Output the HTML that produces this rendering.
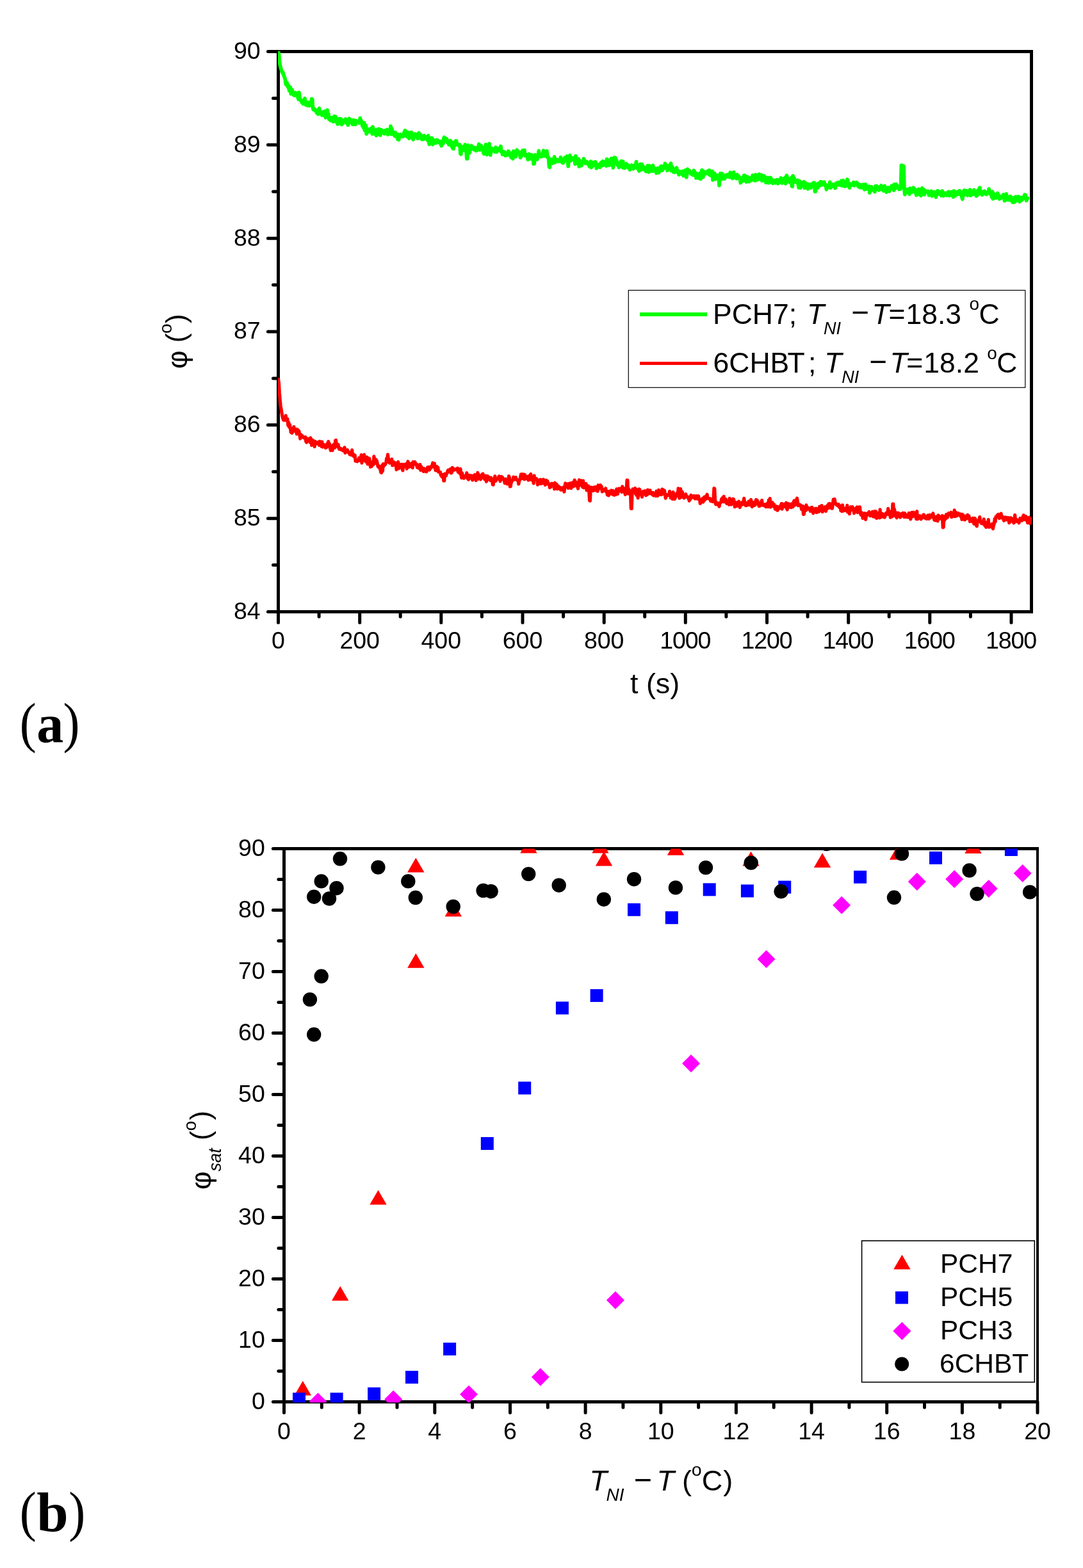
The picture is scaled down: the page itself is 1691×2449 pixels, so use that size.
<!DOCTYPE html>
<html lang="en"><head><meta charset="utf-8"><title>Figure</title>
<style>
html,body{margin:0;padding:0;background:#fff}
svg{display:block}
text{font-family:"Liberation Sans",sans-serif;fill:#000}
.s{font-family:"Liberation Serif",serif}
.i{font-style:italic}
.ax{stroke:#000;stroke-width:5;stroke-linecap:round;stroke-linejoin:miter;fill:none}
</style></head><body>
<svg width="1691" height="2449" viewBox="0 0 1691 2449">
<rect width="1691" height="2449" fill="#fff"/>
<g id="plot-a">
<rect class="ax" x="434.5" y="80.5" width="1176.0" height="875.0"/>
<path class="ax" d="M434.5 80.5H418.4M434.5 153.4H426.5M434.5 226.3H418.4M434.5 299.2H426.5M434.5 372.2H418.4M434.5 445.1H426.5M434.5 518.0H418.4M434.5 590.9H426.5M434.5 663.8H418.4M434.5 736.7H426.5M434.5 809.7H418.4M434.5 882.6H426.5M434.5 955.5H418.4M434.5 955.5V972.4M498.1 955.5V963.3M561.7 955.5V972.4M625.2 955.5V963.3M688.8 955.5V972.4M752.4 955.5V963.3M816.0 955.5V972.4M879.6 955.5V963.3M943.2 955.5V972.4M1006.7 955.5V963.3M1070.3 955.5V972.4M1133.9 955.5V963.3M1197.5 955.5V972.4M1261.1 955.5V963.3M1324.7 955.5V972.4M1388.2 955.5V963.3M1451.8 955.5V972.4M1515.4 955.5V963.3M1579.0 955.5V972.4"/>
<clipPath id="ca"><rect x="434" y="80" width="1177" height="876"/></clipPath>
<g clip-path="url(#ca)">
<path d="M434.5 81.1L435.4 84.6L436.3 94.0L437.2 101.0L438.1 104.8L439.0 108.4L439.9 111.3L440.8 113.3L441.7 113.0L442.6 116.2L443.5 118.9L444.4 120.9L445.3 124.4L446.2 131.1L447.1 132.7L448.0 128.8L448.9 132.9L449.8 136.2L450.7 133.7L451.6 141.5L452.5 139.5L453.4 136.4L454.3 146.6L455.2 140.8L456.1 140.3L457.0 144.2L457.9 146.5L458.8 148.6L459.7 149.0L460.6 144.7L461.5 148.0L462.4 146.1L463.3 148.2L464.2 145.6L465.1 151.8L466.0 155.0L466.9 144.5L467.8 151.2L468.7 156.2L469.6 155.7L470.5 157.5L471.4 160.2L472.3 160.8L473.2 162.1L474.1 161.1L475.0 156.0L475.9 153.8L476.8 162.7L477.7 163.8L478.6 159.6L479.5 162.8L480.4 164.8L481.3 159.9L482.2 162.7L483.1 165.0L484.0 162.5L484.9 162.5L485.8 162.3L486.7 154.3L487.6 155.2L488.5 168.7L489.4 171.2L490.3 169.9L491.2 171.9L492.1 171.5L493.0 171.9L493.9 174.9L494.8 176.5L495.7 174.3L496.6 178.2L497.5 176.3L498.4 169.1L499.3 176.6L500.2 177.1L501.1 178.2L502.0 175.1L502.9 180.1L503.8 178.1L504.7 178.1L505.6 174.6L506.5 174.1L507.4 180.9L508.3 183.7L509.2 176.9L510.1 180.3L511.0 171.9L511.9 177.0L512.8 177.7L513.7 186.2L514.6 183.2L515.5 184.1L516.4 188.4L517.3 184.0L518.2 183.9L519.1 187.1L520.0 189.8L520.9 189.6L521.8 181.7L522.7 184.1L523.6 181.9L524.5 190.0L525.4 186.1L526.3 185.2L527.2 193.9L528.1 192.8L529.0 188.3L529.9 191.2L530.8 185.3L531.7 188.9L532.6 186.0L533.5 194.5L534.4 190.4L535.3 193.0L536.2 190.2L537.1 190.1L538.0 187.4L538.9 189.6L539.8 186.0L540.7 190.7L541.6 192.6L542.5 192.0L543.4 195.3L544.3 192.5L545.2 185.1L546.1 190.5L547.0 187.0L547.9 187.6L548.8 188.7L549.7 190.5L550.6 194.2L551.5 187.4L552.4 194.3L553.3 188.2L554.2 193.9L555.1 194.3L556.0 188.7L556.9 189.3L557.8 190.9L558.7 189.8L559.6 190.9L560.5 192.0L561.4 190.6L562.3 184.4L563.2 191.4L564.1 188.6L565.0 191.4L565.9 196.8L566.8 196.9L567.7 199.6L568.6 192.0L569.5 203.4L570.4 197.9L571.3 196.0L572.2 209.1L573.1 203.0L574.0 202.4L574.9 205.9L575.8 202.1L576.7 205.4L577.6 202.4L578.5 201.3L579.4 204.0L580.3 200.7L581.2 209.2L582.1 198.1L583.0 207.7L583.9 208.7L584.8 208.4L585.7 207.8L586.6 202.9L587.5 211.7L588.4 202.8L589.3 205.7L590.2 201.9L591.1 210.0L592.0 201.5L592.9 210.2L593.8 211.0L594.7 208.1L595.6 202.9L596.5 207.0L597.4 204.6L598.3 206.9L599.2 207.2L600.1 208.7L601.0 203.9L601.9 206.0L602.8 206.6L603.7 206.8L604.6 202.5L605.5 210.1L606.4 206.8L607.3 204.9L608.2 206.3L609.1 207.9L610.0 197.1L610.9 209.5L611.8 200.9L612.7 206.6L613.6 206.6L614.5 209.9L615.4 209.7L616.3 212.4L617.2 206.8L618.1 211.9L619.0 212.5L619.9 212.5L620.8 217.2L621.7 209.8L622.6 218.3L623.5 212.6L624.4 210.7L625.3 210.1L626.2 213.4L627.1 210.7L628.0 212.9L628.9 211.5L629.8 213.0L630.7 208.0L631.6 205.7L632.5 203.8L633.4 211.3L634.3 210.2L635.2 206.0L636.1 213.7L637.0 210.3L637.9 207.2L638.8 216.2L639.7 211.5L640.6 207.1L641.5 207.9L642.4 206.8L643.3 212.5L644.2 214.9L645.1 218.0L646.0 211.8L646.9 209.5L647.8 213.2L648.7 209.3L649.6 213.3L650.5 212.8L651.4 211.9L652.3 216.4L653.2 213.6L654.1 207.5L655.0 215.4L655.9 215.0L656.8 210.7L657.7 214.1L658.6 217.6L659.5 213.3L660.4 215.7L661.3 217.6L662.2 211.9L663.1 213.6L664.0 214.7L664.9 215.2L665.8 214.4L666.7 216.9L667.6 219.0L668.5 211.9L669.4 218.8L670.3 225.4L671.2 222.1L672.1 221.4L673.0 218.1L673.9 215.4L674.8 216.2L675.7 225.7L676.6 218.8L677.5 219.7L678.4 219.4L679.3 221.2L680.2 223.6L681.1 219.9L682.0 218.5L682.9 218.8L683.8 219.7L684.7 222.4L685.6 221.2L686.5 222.8L687.4 221.2L688.3 225.0L689.2 227.8L690.1 223.2L691.0 220.1L691.9 224.2L692.8 216.7L693.7 214.4L694.6 219.3L695.5 219.9L696.4 217.6L697.3 216.7L698.2 222.2L699.1 221.1L700.0 221.7L700.9 225.8L701.8 221.7L702.7 219.7L703.6 220.2L704.5 223.5L705.4 229.1L706.3 222.3L707.2 232.1L708.1 232.3L709.0 225.7L709.9 225.3L710.8 226.6L711.7 220.0L712.6 220.3L713.5 225.3L714.4 225.8L715.3 226.5L716.2 226.6L717.1 226.3L718.0 226.1L718.9 240.2L719.8 240.8L720.7 228.9L721.6 230.3L722.5 233.0L723.4 230.4L724.3 232.1L725.2 234.8L726.1 225.9L727.0 231.5L727.9 233.2L728.8 247.8L729.7 247.9L730.6 226.9L731.5 231.1L732.4 233.1L733.3 238.8L734.2 229.4L735.1 233.7L736.0 227.5L736.9 232.3L737.8 229.9L738.7 231.7L739.6 230.4L740.5 233.9L741.4 231.1L742.3 230.7L743.2 235.3L744.1 233.1L745.0 234.5L745.9 232.4L746.8 233.0L747.7 225.1L748.6 232.3L749.5 234.1L750.4 229.7L751.3 227.5L752.2 231.9L753.1 232.5L754.0 231.4L754.9 238.8L755.8 240.3L756.7 232.8L757.6 236.2L758.5 225.7L759.4 235.3L760.3 241.5L761.2 234.4L762.1 235.5L763.0 231.8L763.9 224.3L764.8 234.0L765.7 242.1L766.6 234.2L767.5 231.6L768.4 235.3L769.3 233.5L770.2 235.8L771.1 233.0L772.0 233.4L772.9 237.1L773.8 230.1L774.7 234.9L775.6 237.2L776.5 235.4L777.4 232.7L778.3 235.2L779.2 232.0L780.1 233.9L781.0 233.6L781.9 228.5L782.8 237.0L783.7 235.5L784.6 241.4L785.5 238.8L786.4 238.5L787.3 237.3L788.2 239.3L789.1 243.0L790.0 239.6L790.9 242.3L791.8 241.3L792.7 239.6L793.6 236.3L794.5 237.0L795.4 239.4L796.3 243.1L797.2 239.3L798.1 245.8L799.0 241.9L799.9 242.6L800.8 247.9L801.7 236.2L802.6 243.1L803.5 244.3L804.4 238.4L805.3 244.6L806.2 237.1L807.1 234.3L808.0 238.7L808.9 238.3L809.8 238.4L810.7 237.7L811.6 242.1L812.5 246.1L813.4 238.8L814.3 243.8L815.2 237.9L816.1 235.0L817.0 239.9L817.9 239.7L818.8 234.7L819.7 242.1L820.6 243.4L821.5 242.6L822.4 242.6L823.3 241.8L824.2 249.2L825.1 243.7L826.0 240.6L826.9 246.2L827.8 245.3L828.7 247.9L829.6 241.8L830.5 244.6L831.4 242.4L832.3 245.9L833.2 255.9L834.1 255.8L835.0 245.7L835.9 242.0L836.8 247.7L837.7 244.2L838.6 249.1L839.5 245.4L840.4 243.8L841.3 235.7L842.2 244.3L843.1 240.5L844.0 244.5L844.9 244.9L845.8 244.1L846.7 240.7L847.6 241.9L848.5 235.1L849.4 243.7L850.3 243.2L851.2 243.0L852.1 238.6L853.0 243.8L853.9 235.9L854.8 245.8L855.7 244.4L856.6 247.5L857.5 260.6L858.4 261.4L859.3 249.0L860.2 248.9L861.1 253.4L862.0 249.4L862.9 255.0L863.8 250.8L864.7 253.3L865.6 245.0L866.5 253.6L867.4 251.6L868.3 251.3L869.2 249.4L870.1 249.3L871.0 252.3L871.9 251.6L872.8 250.3L873.7 251.7L874.6 250.8L875.5 245.8L876.4 251.3L877.3 251.0L878.2 254.1L879.1 254.5L880.0 252.3L880.9 250.9L881.8 246.2L882.7 250.9L883.6 249.8L884.5 249.8L885.4 244.0L886.3 245.7L887.2 259.7L888.1 249.3L889.0 248.3L889.9 242.7L890.8 251.0L891.7 247.7L892.6 248.1L893.5 247.7L894.4 246.7L895.3 249.6L896.2 247.0L897.1 248.8L898.0 256.1L898.9 243.7L899.8 255.4L900.7 254.4L901.6 249.4L902.5 249.9L903.4 248.3L904.3 260.0L905.2 251.4L906.1 251.9L907.0 255.4L907.9 258.7L908.8 255.3L909.7 254.1L910.6 253.7L911.5 247.9L912.4 251.6L913.3 254.4L914.2 255.4L915.1 252.4L916.0 252.4L916.9 255.5L917.8 253.6L918.7 255.3L919.6 257.7L920.5 260.0L921.4 254.3L922.3 252.3L923.2 261.5L924.1 257.7L925.0 259.3L925.9 253.7L926.8 257.9L927.7 257.8L928.6 255.2L929.5 252.8L930.4 254.7L931.3 262.9L932.2 258.0L933.1 257.3L934.0 259.1L934.9 258.1L935.8 257.0L936.7 261.3L937.6 255.4L938.5 253.8L939.4 257.5L940.3 258.6L941.2 251.8L942.1 258.0L943.0 253.6L943.9 253.1L944.8 257.4L945.7 256.5L946.6 259.1L947.5 248.6L948.4 251.7L949.3 252.2L950.2 250.2L951.1 258.3L952.0 254.2L952.9 254.5L953.8 257.0L954.7 247.4L955.6 252.1L956.5 253.6L957.4 262.1L958.3 251.1L959.2 246.1L960.1 253.3L961.0 246.5L961.9 253.4L962.8 250.5L963.7 256.8L964.6 258.1L965.5 256.0L966.4 261.6L967.3 258.3L968.2 257.4L969.1 252.8L970.0 251.8L970.9 259.5L971.8 261.1L972.7 252.1L973.6 262.1L974.5 257.5L975.4 262.5L976.3 261.5L977.2 257.0L978.1 255.9L979.0 257.7L979.9 260.8L980.8 258.0L981.7 262.7L982.6 261.0L983.5 265.1L984.4 261.8L985.3 260.1L986.2 258.1L987.1 262.8L988.0 262.5L988.9 263.6L989.8 258.7L990.7 258.7L991.6 258.4L992.5 260.8L993.4 252.6L994.3 262.0L995.2 260.4L996.1 263.9L997.0 264.5L997.9 267.1L998.8 262.0L999.7 256.4L1000.6 263.8L1001.5 265.0L1002.4 256.7L1003.3 259.4L1004.2 263.0L1005.1 261.2L1006.0 262.2L1006.9 265.6L1007.8 262.4L1008.7 267.8L1009.6 267.4L1010.5 261.8L1011.4 258.7L1012.3 265.0L1013.2 268.8L1014.1 258.9L1015.0 266.6L1015.9 259.9L1016.8 266.9L1017.7 263.3L1018.6 267.2L1019.5 258.4L1020.4 265.6L1021.3 266.6L1022.2 263.0L1023.1 264.6L1024.0 263.5L1024.9 270.4L1025.8 267.6L1026.7 266.2L1027.6 262.5L1028.5 269.6L1029.4 266.7L1030.3 265.3L1031.2 266.3L1032.1 259.4L1033.0 259.7L1033.9 266.3L1034.8 264.8L1035.7 261.2L1036.6 259.5L1037.5 262.5L1038.4 255.4L1039.3 257.4L1040.2 259.5L1041.1 260.0L1042.0 266.3L1042.9 265.1L1043.8 258.9L1044.7 261.5L1045.6 264.0L1046.5 259.9L1047.4 255.2L1048.3 266.7L1049.2 260.2L1050.1 261.8L1051.0 264.0L1051.9 268.9L1052.8 264.3L1053.7 269.0L1054.6 264.0L1055.5 263.9L1056.4 262.0L1057.3 267.7L1058.2 269.3L1059.1 267.4L1060.0 272.8L1060.9 267.5L1061.8 269.9L1062.7 268.3L1063.6 269.2L1064.5 268.8L1065.4 272.5L1066.3 267.5L1067.2 274.5L1068.1 269.9L1069.0 273.5L1069.9 266.0L1070.8 269.5L1071.7 276.9L1072.6 271.9L1073.5 264.2L1074.4 269.1L1075.3 267.9L1076.2 266.6L1077.1 267.7L1078.0 270.8L1078.9 269.7L1079.8 270.5L1080.7 272.5L1081.6 273.2L1082.5 270.8L1083.4 266.3L1084.3 268.0L1085.2 274.1L1086.1 270.1L1087.0 278.1L1087.9 272.6L1088.8 275.3L1089.7 271.7L1090.6 274.5L1091.5 278.4L1092.4 274.0L1093.3 270.5L1094.2 279.6L1095.1 269.0L1096.0 265.7L1096.9 266.2L1097.8 276.7L1098.7 269.8L1099.6 271.7L1100.5 268.5L1101.4 271.6L1102.3 270.1L1103.2 270.4L1104.1 269.7L1105.0 267.3L1105.9 271.8L1106.8 271.8L1107.7 266.0L1108.6 273.5L1109.5 272.2L1110.4 269.1L1111.3 275.1L1112.2 267.6L1113.1 281.0L1114.0 273.0L1114.9 273.9L1115.8 270.7L1116.7 279.9L1117.6 277.5L1118.5 273.5L1119.4 278.8L1120.3 277.3L1121.2 274.6L1122.1 275.3L1123.0 289.6L1123.9 275.3L1124.8 270.9L1125.7 277.9L1126.6 279.6L1127.5 271.2L1128.4 278.3L1129.3 275.5L1130.2 279.4L1131.1 279.0L1132.0 277.6L1132.9 273.7L1133.8 276.7L1134.7 274.7L1135.6 273.0L1136.5 274.6L1137.4 273.0L1138.3 274.5L1139.2 276.8L1140.1 269.5L1141.0 273.1L1141.9 271.4L1142.8 274.7L1143.7 278.5L1144.6 278.3L1145.5 268.8L1146.4 277.2L1147.3 276.8L1148.2 273.3L1149.1 276.2L1150.0 278.8L1150.9 272.6L1151.8 277.2L1152.7 278.0L1153.6 275.2L1154.5 277.5L1155.4 278.6L1156.3 285.5L1157.2 284.3L1158.1 280.9L1159.0 277.6L1159.9 277.5L1160.8 282.2L1161.7 273.8L1162.6 277.9L1163.5 274.5L1164.4 277.7L1165.3 284.1L1166.2 276.0L1167.1 278.4L1168.0 276.9L1168.9 282.0L1169.8 283.6L1170.7 278.0L1171.6 280.1L1172.5 277.8L1173.4 281.6L1174.3 279.9L1175.2 273.9L1176.1 278.9L1177.0 275.4L1177.9 275.6L1178.8 282.1L1179.7 273.0L1180.6 281.5L1181.5 278.9L1182.4 277.4L1183.3 280.2L1184.2 280.1L1185.1 272.1L1186.0 274.6L1186.9 278.3L1187.8 279.5L1188.7 273.1L1189.6 282.3L1190.5 275.8L1191.4 279.6L1192.3 277.3L1193.2 274.7L1194.1 281.8L1195.0 277.7L1195.9 285.2L1196.8 280.4L1197.7 277.6L1198.6 280.6L1199.5 285.5L1200.4 277.7L1201.3 285.4L1202.2 280.2L1203.1 277.6L1204.0 279.3L1204.9 281.2L1205.8 283.0L1206.7 286.2L1207.6 284.2L1208.5 282.7L1209.4 281.8L1210.3 282.1L1211.2 285.8L1212.1 281.4L1213.0 280.7L1213.9 282.1L1214.8 286.7L1215.7 282.4L1216.6 282.9L1217.5 280.6L1218.4 283.0L1219.3 278.0L1220.2 285.3L1221.1 285.9L1222.0 284.3L1222.9 279.5L1223.8 281.5L1224.7 279.6L1225.6 277.9L1226.5 286.8L1227.4 285.3L1228.3 274.1L1229.2 277.0L1230.1 280.0L1231.0 280.3L1231.9 282.9L1232.8 284.5L1233.7 279.2L1234.6 281.8L1235.5 277.8L1236.4 290.9L1237.3 291.2L1238.2 274.7L1239.1 279.5L1240.0 278.1L1240.9 283.7L1241.8 284.0L1242.7 282.5L1243.6 284.5L1244.5 282.7L1245.4 281.5L1246.3 287.4L1247.2 293.2L1248.1 282.7L1249.0 290.4L1249.9 293.3L1250.8 285.9L1251.7 289.1L1252.6 285.5L1253.5 287.0L1254.4 289.3L1255.3 284.0L1256.2 293.6L1257.1 291.4L1258.0 290.5L1258.9 286.3L1259.8 291.9L1260.7 293.7L1261.6 294.9L1262.5 292.9L1263.4 287.8L1264.3 288.8L1265.2 290.2L1266.1 293.2L1267.0 288.3L1267.9 290.1L1268.8 288.0L1269.7 285.7L1270.6 288.1L1271.5 285.6L1272.4 299.1L1273.3 299.1L1274.2 291.6L1275.1 287.8L1276.0 287.5L1276.9 293.5L1277.8 286.5L1278.7 289.3L1279.6 285.6L1280.5 289.8L1281.4 283.8L1282.3 283.9L1283.2 288.9L1284.1 284.8L1285.0 287.0L1285.9 285.9L1286.8 284.4L1287.7 289.2L1288.6 288.2L1289.5 288.6L1290.4 296.0L1291.3 291.4L1292.2 292.1L1293.1 290.1L1294.0 289.9L1294.9 292.9L1295.8 284.5L1296.7 293.4L1297.6 291.2L1298.5 291.7L1299.4 289.1L1300.3 288.2L1301.2 288.0L1302.1 288.2L1303.0 289.8L1303.9 293.9L1304.8 288.7L1305.7 286.1L1306.6 289.4L1307.5 285.9L1308.4 285.9L1309.3 284.7L1310.2 288.9L1311.1 287.5L1312.0 288.8L1312.9 288.0L1313.8 282.5L1314.7 290.1L1315.6 285.3L1316.5 281.9L1317.4 289.6L1318.3 285.2L1319.2 291.1L1320.1 284.5L1321.0 290.2L1321.9 288.7L1322.8 280.2L1323.7 282.1L1324.6 289.9L1325.5 288.7L1326.4 293.3L1327.3 287.0L1328.2 288.4L1329.1 289.1L1330.0 288.4L1330.9 288.7L1331.8 288.9L1332.7 284.8L1333.6 289.8L1334.5 287.7L1335.4 286.8L1336.3 285.1L1337.2 285.1L1338.1 285.6L1339.0 286.4L1339.9 291.1L1340.8 291.1L1341.7 288.6L1342.6 292.9L1343.5 288.8L1344.4 290.9L1345.3 292.8L1346.2 292.1L1347.1 293.1L1348.0 288.3L1348.9 288.8L1349.8 296.0L1350.7 291.5L1351.6 288.0L1352.5 292.7L1353.4 294.9L1354.3 293.6L1355.2 292.5L1356.1 291.3L1357.0 291.1L1357.9 301.0L1358.8 297.4L1359.7 294.0L1360.6 291.8L1361.5 296.3L1362.4 295.7L1363.3 296.1L1364.2 295.0L1365.1 298.9L1366.0 299.4L1366.9 290.6L1367.8 292.1L1368.7 290.5L1369.6 292.4L1370.5 291.7L1371.4 296.1L1372.3 296.9L1373.2 293.2L1374.1 295.2L1375.0 293.5L1375.9 289.8L1376.8 293.8L1377.7 296.3L1378.6 293.3L1379.5 298.0L1380.4 297.4L1381.3 290.5L1382.2 295.5L1383.1 298.5L1384.0 300.0L1384.9 295.8L1385.8 295.8L1386.7 293.0L1387.6 297.5L1388.5 298.8L1389.4 296.1L1390.3 293.6L1391.2 293.8L1392.1 290.4L1393.0 291.9L1393.9 289.7L1394.8 295.3L1395.7 297.2L1396.6 288.0L1397.5 294.2L1398.4 294.1L1399.3 287.8L1400.2 291.3L1401.1 293.1L1402.0 293.1L1402.9 291.1L1403.8 295.7L1404.7 294.8L1405.6 295.3L1406.5 293.9L1407.4 258.2L1408.3 258.5L1409.2 258.8L1410.1 259.1L1411.0 259.4L1411.9 294.4L1412.8 303.8L1413.7 295.9L1414.6 298.7L1415.5 300.6L1416.4 297.8L1417.3 295.6L1418.2 297.3L1419.1 298.4L1420.0 303.2L1420.9 294.2L1421.8 294.9L1422.7 298.7L1423.6 296.6L1424.5 300.0L1425.4 296.8L1426.3 293.3L1427.2 297.9L1428.1 295.7L1429.0 295.8L1429.9 301.3L1430.8 304.8L1431.7 298.8L1432.6 300.3L1433.5 303.4L1434.4 295.3L1435.3 299.8L1436.2 299.6L1437.1 298.0L1438.0 305.7L1438.9 297.8L1439.8 293.8L1440.7 296.9L1441.6 300.6L1442.5 296.0L1443.4 303.8L1444.3 297.6L1445.2 299.8L1446.1 299.8L1447.0 299.1L1447.9 299.0L1448.8 298.5L1449.7 300.0L1450.6 304.9L1451.5 302.6L1452.4 303.5L1453.3 302.2L1454.2 298.7L1455.1 306.0L1456.0 304.0L1456.9 301.5L1457.8 303.2L1458.7 299.9L1459.6 304.9L1460.5 305.1L1461.4 308.0L1462.3 300.3L1463.2 300.7L1464.1 298.1L1465.0 299.3L1465.9 302.9L1466.8 299.6L1467.7 300.3L1468.6 300.0L1469.5 305.6L1470.4 302.7L1471.3 298.3L1472.2 300.4L1473.1 306.0L1474.0 304.3L1474.9 303.8L1475.8 303.5L1476.7 301.8L1477.6 302.6L1478.5 305.1L1479.4 304.4L1480.3 299.8L1481.2 299.6L1482.1 305.5L1483.0 305.4L1483.9 301.2L1484.8 304.4L1485.7 299.6L1486.6 300.0L1487.5 300.4L1488.4 307.7L1489.3 298.1L1490.2 303.1L1491.1 304.8L1492.0 305.4L1492.9 303.8L1493.8 301.2L1494.7 299.8L1495.6 300.5L1496.5 303.3L1497.4 301.8L1498.3 298.0L1499.2 303.3L1500.1 299.9L1501.0 304.3L1501.9 308.0L1502.8 311.0L1503.7 302.7L1504.6 300.4L1505.5 297.2L1506.4 304.0L1507.3 302.3L1508.2 302.2L1509.1 297.9L1510.0 300.1L1510.9 305.2L1511.8 303.9L1512.7 301.8L1513.6 301.4L1514.5 296.4L1515.4 305.4L1516.3 301.9L1517.2 301.2L1518.1 303.5L1519.0 302.8L1519.9 303.0L1520.8 296.6L1521.7 303.2L1522.6 299.6L1523.5 299.6L1524.4 306.1L1525.3 303.8L1526.2 304.6L1527.1 296.8L1528.0 303.2L1528.9 296.5L1529.8 293.1L1530.7 301.1L1531.6 300.6L1532.5 300.5L1533.4 304.4L1534.3 299.7L1535.2 301.7L1536.1 299.6L1537.0 298.5L1537.9 299.5L1538.8 303.0L1539.7 300.6L1540.6 303.4L1541.5 301.3L1542.4 300.4L1543.3 299.7L1544.2 295.2L1545.1 298.5L1546.0 302.5L1546.9 303.7L1547.8 301.2L1548.7 308.0L1549.6 299.5L1550.5 310.6L1551.4 302.1L1552.3 307.9L1553.2 304.1L1554.1 308.7L1555.0 309.2L1555.9 306.4L1556.8 303.2L1557.7 301.9L1558.6 304.4L1559.5 307.8L1560.4 310.7L1561.3 307.8L1562.2 306.7L1563.1 309.2L1564.0 307.6L1564.9 307.8L1565.8 307.4L1566.7 303.9L1567.6 306.2L1568.5 313.6L1569.4 308.2L1570.3 311.1L1571.2 303.0L1572.1 307.9L1573.0 312.1L1573.9 307.5L1574.8 310.4L1575.7 312.2L1576.6 310.2L1577.5 306.8L1578.4 312.9L1579.3 312.5L1580.2 308.9L1581.1 315.8L1582.0 311.7L1582.9 309.8L1583.8 315.8L1584.7 311.3L1585.6 307.4L1586.5 313.7L1587.4 313.2L1588.3 311.1L1589.2 307.3L1590.1 310.3L1591.0 307.5L1591.9 315.0L1592.8 312.0L1593.7 309.2L1594.6 308.6L1595.5 312.5L1596.4 311.7L1597.3 308.2L1598.2 309.0L1599.1 309.0L1600.0 304.1L1600.9 304.6L1601.8 307.9L1602.7 313.2L1603.6 310.6L1604.5 309.6" fill="none" stroke="#00ff00" stroke-width="5.8" stroke-linejoin="round" stroke-linecap="round"/>
<path d="M434.5 592.5L435.4 598.4L436.3 613.2L437.2 624.0L438.1 633.6L439.0 638.7L439.9 644.5L440.8 650.0L441.7 653.5L442.6 656.2L443.5 656.2L444.4 653.5L445.3 656.3L446.2 649.2L447.1 655.9L448.0 656.0L448.9 654.3L449.8 664.4L450.7 659.5L451.6 667.1L452.5 663.2L453.4 669.1L454.3 675.3L455.2 675.9L456.1 676.3L457.0 672.6L457.9 669.7L458.8 666.6L459.7 671.8L460.6 673.3L461.5 670.2L462.4 670.4L463.3 677.9L464.2 670.5L465.1 673.8L466.0 672.4L466.9 673.6L467.8 679.1L468.7 685.1L469.6 678.5L470.5 682.5L471.4 680.1L472.3 681.7L473.2 682.4L474.1 683.7L475.0 683.9L475.9 684.2L476.8 682.6L477.7 689.5L478.6 691.1L479.5 685.0L480.4 688.2L481.3 685.8L482.2 685.7L483.1 685.7L484.0 690.7L484.9 683.8L485.8 689.5L486.7 695.5L487.6 687.0L488.5 688.0L489.4 688.5L490.3 691.5L491.2 697.6L492.1 689.3L493.0 692.0L493.9 691.5L494.8 692.9L495.7 692.9L496.6 690.7L497.5 693.5L498.4 695.3L499.3 689.4L500.2 693.4L501.1 693.9L502.0 697.4L502.9 690.0L503.8 698.1L504.7 695.9L505.6 696.5L506.5 694.8L507.4 697.3L508.3 699.5L509.2 695.6L510.1 698.7L511.0 692.9L511.9 695.3L512.8 689.5L513.7 697.0L514.6 693.2L515.5 700.5L516.4 703.5L517.3 697.4L518.2 699.4L519.1 703.4L520.0 695.3L520.9 694.6L521.8 698.6L522.7 699.2L523.6 688.1L524.5 687.5L525.4 694.9L526.3 694.3L527.2 697.4L528.1 694.3L529.0 699.8L529.9 701.6L530.8 700.2L531.7 700.2L532.6 702.2L533.5 701.9L534.4 702.8L535.3 703.7L536.2 701.0L537.1 703.9L538.0 698.8L538.9 707.3L539.8 703.7L540.7 705.8L541.6 705.3L542.5 702.6L543.4 706.4L544.3 705.5L545.2 707.7L546.1 709.8L547.0 707.2L547.9 707.5L548.8 710.7L549.7 702.9L550.6 711.2L551.5 709.3L552.4 712.9L553.3 711.3L554.2 711.2L555.1 720.2L556.0 719.5L556.9 720.0L557.8 720.8L558.7 719.4L559.6 719.4L560.5 715.2L561.4 718.6L562.3 719.0L563.2 717.5L564.1 710.7L565.0 723.2L565.9 717.7L566.8 719.5L567.7 713.3L568.6 710.1L569.5 719.0L570.4 715.9L571.3 721.1L572.2 715.5L573.1 713.9L574.0 724.9L574.9 723.1L575.8 719.2L576.7 716.1L577.6 723.5L578.5 729.3L579.4 725.3L580.3 728.5L581.2 724.6L582.1 721.0L583.0 725.8L583.9 712.8L584.8 718.4L585.7 723.4L586.6 717.5L587.5 718.6L588.4 720.1L589.3 724.5L590.2 729.0L591.1 727.3L592.0 728.7L592.9 731.7L593.8 733.1L594.7 737.7L595.6 738.3L596.5 727.2L597.4 735.7L598.3 724.5L599.2 728.3L600.1 726.3L601.0 725.9L601.9 724.8L602.8 721.9L603.7 716.0L604.6 717.1L605.5 709.8L606.4 716.5L607.3 721.7L608.2 723.0L609.1 721.6L610.0 721.4L610.9 721.9L611.8 717.1L612.7 727.0L613.6 725.1L614.5 726.2L615.4 721.8L616.3 726.4L617.2 724.4L618.1 723.6L619.0 733.6L619.9 728.3L620.8 726.2L621.7 721.5L622.6 731.9L623.5 725.2L624.4 725.5L625.3 727.0L626.2 725.7L627.1 725.2L628.0 732.6L628.9 734.9L629.8 727.7L630.7 725.5L631.6 728.0L632.5 725.8L633.4 725.6L634.3 724.4L635.2 732.1L636.1 726.6L637.0 720.7L637.9 725.9L638.8 729.3L639.7 724.4L640.6 728.3L641.5 728.8L642.4 723.8L643.3 727.2L644.2 730.7L645.1 721.4L646.0 724.1L646.9 722.3L647.8 721.6L648.7 723.8L649.6 726.0L650.5 725.3L651.4 730.2L652.3 728.7L653.2 726.3L654.1 731.3L655.0 729.3L655.9 725.6L656.8 734.5L657.7 728.6L658.6 734.0L659.5 734.4L660.4 731.7L661.3 736.4L662.2 731.7L663.1 736.0L664.0 732.9L664.9 734.1L665.8 736.8L666.7 734.2L667.6 729.9L668.5 731.0L669.4 729.7L670.3 734.1L671.2 732.6L672.1 729.2L673.0 730.7L673.9 729.9L674.8 726.8L675.7 723.0L676.6 728.5L677.5 724.8L678.4 724.0L679.3 731.7L680.2 734.7L681.1 733.2L682.0 728.6L682.9 735.4L683.8 730.0L684.7 737.1L685.6 737.2L686.5 737.6L687.4 737.4L688.3 742.0L689.2 742.6L690.1 744.9L691.0 744.9L691.9 741.2L692.8 751.0L693.7 751.0L694.6 740.2L695.5 741.5L696.4 743.1L697.3 739.3L698.2 738.8L699.1 735.0L700.0 734.1L700.9 734.3L701.8 736.8L702.7 733.4L703.6 732.4L704.5 738.9L705.4 738.1L706.3 730.3L707.2 734.5L708.1 733.5L709.0 734.2L709.9 732.7L710.8 733.2L711.7 732.9L712.6 733.6L713.5 732.5L714.4 731.3L715.3 737.5L716.2 734.8L717.1 736.5L718.0 739.4L718.9 732.3L719.8 741.4L720.7 746.4L721.6 738.8L722.5 744.2L723.4 746.2L724.3 747.0L725.2 743.3L726.1 744.1L727.0 744.7L727.9 744.7L728.8 738.6L729.7 746.7L730.6 748.0L731.5 748.9L732.4 747.8L733.3 742.3L734.2 743.8L735.1 743.9L736.0 743.0L736.9 746.7L737.8 749.8L738.7 743.0L739.6 745.9L740.5 745.0L741.4 741.4L742.3 745.1L743.2 750.4L744.1 742.7L745.0 744.3L745.9 738.2L746.8 748.1L747.7 741.6L748.6 745.2L749.5 747.8L750.4 748.7L751.3 745.0L752.2 743.2L753.1 740.7L754.0 740.1L754.9 744.3L755.8 747.3L756.7 748.5L757.6 747.2L758.5 743.1L759.4 752.2L760.3 750.2L761.2 743.5L762.1 747.3L763.0 745.5L763.9 745.6L764.8 748.8L765.7 750.3L766.6 746.1L767.5 749.7L768.4 748.5L769.3 756.9L770.2 757.1L771.1 748.8L772.0 747.0L772.9 743.7L773.8 751.5L774.7 749.3L775.6 749.0L776.5 747.6L777.4 747.5L778.3 746.8L779.2 743.8L780.1 746.1L781.0 751.7L781.9 748.1L782.8 744.3L783.7 745.6L784.6 745.6L785.5 748.8L786.4 748.9L787.3 750.4L788.2 754.7L789.1 748.0L790.0 750.8L790.9 751.8L791.8 755.9L792.7 750.4L793.6 750.0L794.5 743.5L795.4 745.8L796.3 760.0L797.2 759.8L798.1 754.4L799.0 752.3L799.9 750.7L800.8 749.3L801.7 745.1L802.6 749.1L803.5 747.1L804.4 748.5L805.3 745.6L806.2 748.4L807.1 749.8L808.0 749.9L808.9 750.1L809.8 756.0L810.7 751.5L811.6 748.8L812.5 746.2L813.4 741.0L814.3 747.7L815.2 740.7L816.1 744.9L817.0 747.2L817.9 740.8L818.8 748.6L819.7 741.6L820.6 747.4L821.5 747.7L822.4 744.7L823.3 744.6L824.2 748.1L825.1 750.0L826.0 743.3L826.9 747.2L827.8 742.6L828.7 740.4L829.6 749.5L830.5 749.4L831.4 750.1L832.3 747.7L833.2 754.8L834.1 742.9L835.0 748.8L835.9 747.1L836.8 748.8L837.7 747.8L838.6 749.5L839.5 757.2L840.4 750.8L841.3 752.5L842.2 753.2L843.1 749.1L844.0 755.4L844.9 749.2L845.8 755.3L846.7 753.9L847.6 754.4L848.5 748.9L849.4 749.8L850.3 750.2L851.2 757.5L852.1 755.7L853.0 750.1L853.9 754.5L854.8 751.6L855.7 754.4L856.6 756.9L857.5 755.8L858.4 761.7L859.3 757.8L860.2 760.4L861.1 755.3L862.0 755.2L862.9 756.4L863.8 758.5L864.7 755.6L865.6 763.8L866.5 754.2L867.4 761.0L868.3 755.8L869.2 756.7L870.1 763.6L871.0 760.0L871.9 759.3L872.8 762.0L873.7 763.6L874.6 761.3L875.5 765.2L876.4 762.1L877.3 764.9L878.2 763.6L879.1 763.0L880.0 761.0L880.9 768.2L881.8 761.7L882.7 754.9L883.6 760.5L884.5 755.7L885.4 756.4L886.3 755.9L887.2 762.4L888.1 756.5L889.0 755.3L889.9 756.5L890.8 754.7L891.7 762.7L892.6 759.4L893.5 759.9L894.4 753.7L895.3 759.7L896.2 759.2L897.1 749.8L898.0 751.9L898.9 752.8L899.8 755.5L900.7 759.3L901.6 754.3L902.5 763.2L903.4 755.5L904.3 749.5L905.2 757.9L906.1 757.9L907.0 754.6L907.9 750.7L908.8 756.4L909.7 760.8L910.6 750.9L911.5 761.8L912.4 755.3L913.3 757.2L914.2 755.7L915.1 755.7L916.0 765.8L916.9 758.5L917.8 764.2L918.7 759.0L919.6 765.3L920.5 781.9L921.4 782.2L922.3 761.1L923.2 762.4L924.1 761.5L925.0 764.9L925.9 766.6L926.8 766.2L927.7 760.9L928.6 765.4L929.5 765.3L930.4 760.6L931.3 765.0L932.2 766.8L933.1 767.2L934.0 757.9L934.9 763.4L935.8 763.2L936.7 762.5L937.6 757.7L938.5 759.5L939.4 760.3L940.3 767.9L941.2 764.1L942.1 764.9L943.0 766.1L943.9 766.4L944.8 766.7L945.7 762.7L946.6 768.2L947.5 768.2L948.4 772.9L949.3 767.7L950.2 774.0L951.1 772.8L952.0 767.3L952.9 769.5L953.8 769.6L954.7 766.0L955.6 771.5L956.5 772.2L957.4 766.3L958.3 772.4L959.2 773.2L960.1 769.3L961.0 769.7L961.9 772.3L962.8 763.8L963.7 767.5L964.6 771.4L965.5 765.9L966.4 763.1L967.3 765.3L968.2 766.3L969.1 763.2L970.0 767.5L970.9 768.4L971.8 759.8L972.7 767.6L973.6 764.8L974.5 763.0L975.4 768.8L976.3 772.5L977.2 768.7L978.1 764.5L979.0 749.9L979.9 750.0L980.8 771.2L981.7 763.9L982.6 767.6L983.5 769.8L984.4 766.8L985.3 794.3L986.2 794.4L987.1 769.4L988.0 763.9L988.9 767.8L989.8 766.6L990.7 767.6L991.6 762.5L992.5 771.6L993.4 764.0L994.3 774.0L995.2 767.9L996.1 777.8L997.0 772.0L997.9 763.9L998.8 764.5L999.7 768.8L1000.6 769.0L1001.5 769.7L1002.4 776.1L1003.3 773.3L1004.2 767.6L1005.1 768.2L1006.0 769.2L1006.9 766.7L1007.8 768.1L1008.7 773.8L1009.6 771.6L1010.5 772.2L1011.4 765.1L1012.3 771.5L1013.2 768.0L1014.1 769.2L1015.0 765.8L1015.9 770.7L1016.8 770.0L1017.7 772.0L1018.6 772.3L1019.5 769.3L1020.4 774.0L1021.3 771.5L1022.2 773.4L1023.1 773.3L1024.0 774.5L1024.9 767.2L1025.8 772.1L1026.7 774.5L1027.6 770.9L1028.5 765.4L1029.4 770.7L1030.3 772.4L1031.2 767.7L1032.1 770.4L1033.0 772.5L1033.9 764.1L1034.8 764.6L1035.7 768.9L1036.6 771.3L1037.5 766.1L1038.4 772.7L1039.3 778.1L1040.2 772.2L1041.1 773.5L1042.0 773.0L1042.9 773.8L1043.8 772.8L1044.7 772.5L1045.6 767.3L1046.5 772.6L1047.4 777.7L1048.3 775.2L1049.2 771.6L1050.1 779.4L1051.0 768.5L1051.9 771.2L1052.8 779.4L1053.7 778.9L1054.6 776.8L1055.5 774.1L1056.4 772.3L1057.3 769.6L1058.2 774.0L1059.1 762.8L1060.0 772.7L1060.9 778.1L1061.8 773.1L1062.7 763.7L1063.6 776.4L1064.5 768.9L1065.4 768.4L1066.3 776.2L1067.2 776.2L1068.1 777.9L1069.0 775.8L1069.9 773.1L1070.8 771.8L1071.7 775.7L1072.6 775.3L1073.5 776.3L1074.4 778.3L1075.3 776.5L1076.2 782.2L1077.1 778.4L1078.0 779.7L1078.9 773.4L1079.8 775.2L1080.7 776.3L1081.6 776.9L1082.5 775.9L1083.4 774.4L1084.3 776.1L1085.2 778.9L1086.1 777.9L1087.0 774.6L1087.9 776.1L1088.8 779.0L1089.7 778.4L1090.6 774.7L1091.5 779.1L1092.4 780.2L1093.3 786.5L1094.2 783.0L1095.1 784.2L1096.0 782.6L1096.9 778.7L1097.8 784.2L1098.7 781.4L1099.6 776.4L1100.5 780.7L1101.4 779.9L1102.3 774.8L1103.2 777.1L1104.1 772.2L1105.0 778.5L1105.9 778.5L1106.8 778.4L1107.7 779.2L1108.6 778.7L1109.5 782.5L1110.4 780.9L1111.3 782.7L1112.2 780.2L1113.1 783.5L1114.0 778.9L1114.9 762.7L1115.8 763.1L1116.7 784.6L1117.6 787.6L1118.5 784.5L1119.4 787.9L1120.3 785.9L1121.2 786.1L1122.1 787.3L1123.0 791.1L1123.9 786.5L1124.8 785.0L1125.7 784.6L1126.6 779.4L1127.5 782.9L1128.4 777.4L1129.3 783.7L1130.2 775.4L1131.1 783.8L1132.0 779.4L1132.9 779.4L1133.8 781.1L1134.7 786.4L1135.6 782.0L1136.5 783.7L1137.4 783.2L1138.3 788.2L1139.2 778.3L1140.1 784.1L1141.0 785.0L1141.9 788.1L1142.8 782.0L1143.7 780.7L1144.6 779.2L1145.5 780.0L1146.4 783.4L1147.3 791.7L1148.2 786.6L1149.1 787.1L1150.0 785.0L1150.9 790.4L1151.8 786.7L1152.7 789.8L1153.6 783.2L1154.5 787.3L1155.4 792.5L1156.3 788.5L1157.2 785.3L1158.1 785.4L1159.0 788.0L1159.9 783.6L1160.8 787.4L1161.7 778.3L1162.6 783.9L1163.5 784.6L1164.4 789.7L1165.3 787.7L1166.2 789.3L1167.1 787.1L1168.0 788.8L1168.9 783.2L1169.8 783.7L1170.7 788.6L1171.6 782.8L1172.5 780.5L1173.4 786.6L1174.3 791.5L1175.2 786.7L1176.1 784.7L1177.0 789.7L1177.9 784.6L1178.8 789.0L1179.7 783.5L1180.6 780.4L1181.5 786.7L1182.4 781.6L1183.3 784.2L1184.2 786.0L1185.1 790.6L1186.0 787.3L1186.9 790.0L1187.8 785.3L1188.7 783.8L1189.6 781.5L1190.5 788.2L1191.4 789.3L1192.3 787.9L1193.2 788.6L1194.1 789.9L1195.0 787.6L1195.9 791.7L1196.8 788.2L1197.7 787.5L1198.6 785.7L1199.5 791.7L1200.4 781.0L1201.3 783.0L1202.2 778.6L1203.1 792.2L1204.0 789.7L1204.9 784.6L1205.8 784.6L1206.7 788.0L1207.6 790.7L1208.5 787.7L1209.4 790.3L1210.3 795.0L1211.2 791.4L1212.1 795.8L1213.0 791.0L1213.9 797.2L1214.8 792.4L1215.7 795.0L1216.6 794.2L1217.5 790.8L1218.4 791.2L1219.3 792.0L1220.2 786.5L1221.1 795.1L1222.0 787.0L1222.9 789.3L1223.8 788.7L1224.7 791.3L1225.6 787.5L1226.5 788.0L1227.4 785.3L1228.3 793.6L1229.2 796.0L1230.1 786.6L1231.0 792.6L1231.9 787.0L1232.8 792.1L1233.7 789.3L1234.6 787.8L1235.5 792.6L1236.4 786.8L1237.3 790.1L1238.2 791.5L1239.1 784.2L1240.0 781.9L1240.9 789.0L1241.8 784.1L1242.7 788.3L1243.6 780.9L1244.5 778.3L1245.4 783.4L1246.3 789.6L1247.2 788.2L1248.1 788.6L1249.0 788.4L1249.9 788.7L1250.8 792.0L1251.7 795.7L1252.6 792.9L1253.5 790.5L1254.4 803.3L1255.3 803.2L1256.2 795.3L1257.1 792.8L1258.0 797.4L1258.9 788.9L1259.8 795.8L1260.7 792.3L1261.6 793.9L1262.5 794.7L1263.4 794.4L1264.3 794.8L1265.2 798.3L1266.1 793.2L1267.0 798.1L1267.9 792.4L1268.8 797.5L1269.7 801.7L1270.6 798.0L1271.5 794.8L1272.4 796.8L1273.3 799.2L1274.2 794.1L1275.1 800.4L1276.0 795.8L1276.9 796.3L1277.8 794.5L1278.7 799.3L1279.6 791.4L1280.5 794.1L1281.4 790.7L1282.3 792.0L1283.2 789.7L1284.1 799.5L1285.0 797.1L1285.9 795.0L1286.8 796.3L1287.7 793.2L1288.6 791.5L1289.5 798.5L1290.4 795.0L1291.3 794.5L1292.2 789.4L1293.1 793.6L1294.0 786.8L1294.9 790.2L1295.8 786.6L1296.7 793.1L1297.6 790.9L1298.5 788.9L1299.4 794.2L1300.3 788.2L1301.2 780.1L1302.1 780.5L1303.0 779.6L1303.9 783.5L1304.8 787.2L1305.7 786.9L1306.6 788.9L1307.5 789.4L1308.4 788.6L1309.3 787.7L1310.2 792.0L1311.1 792.7L1312.0 790.0L1312.9 797.7L1313.8 793.8L1314.7 798.6L1315.6 788.8L1316.5 798.0L1317.4 796.9L1318.3 796.4L1319.2 794.2L1320.1 797.3L1321.0 794.6L1321.9 796.4L1322.8 789.4L1323.7 800.0L1324.6 794.7L1325.5 794.9L1326.4 802.6L1327.3 795.7L1328.2 791.9L1329.1 793.8L1330.0 796.2L1330.9 791.6L1331.8 795.6L1332.7 794.0L1333.6 801.6L1334.5 798.7L1335.4 798.2L1336.3 796.5L1337.2 793.5L1338.1 792.1L1339.0 800.4L1339.9 793.7L1340.8 792.2L1341.7 799.6L1342.6 791.9L1343.5 802.2L1344.4 804.3L1345.3 804.9L1346.2 801.0L1347.1 809.5L1348.0 805.5L1348.9 804.4L1349.8 805.8L1350.7 801.7L1351.6 811.5L1352.5 806.8L1353.4 804.1L1354.3 801.9L1355.2 803.7L1356.1 803.4L1357.0 799.3L1357.9 804.6L1358.8 805.7L1359.7 804.6L1360.6 803.2L1361.5 804.4L1362.4 799.2L1363.3 806.8L1364.2 803.9L1365.1 798.9L1366.0 807.5L1366.9 798.7L1367.8 799.0L1368.7 809.5L1369.6 803.8L1370.5 804.1L1371.4 806.1L1372.3 801.4L1373.2 808.8L1374.1 795.9L1375.0 807.9L1375.9 805.7L1376.8 807.0L1377.7 802.2L1378.6 806.2L1379.5 806.0L1380.4 807.8L1381.3 808.1L1382.2 805.7L1383.1 801.6L1384.0 801.4L1384.9 800.4L1385.8 803.2L1386.7 794.3L1387.6 803.3L1388.5 802.8L1389.4 798.9L1390.3 808.2L1391.2 803.2L1392.1 800.3L1393.0 806.9L1393.9 787.2L1394.8 787.2L1395.7 801.1L1396.6 795.4L1397.5 805.9L1398.4 800.4L1399.3 801.1L1400.2 808.8L1401.1 801.3L1402.0 804.2L1402.9 801.2L1403.8 805.7L1404.7 804.6L1405.6 808.0L1406.5 805.8L1407.4 802.5L1408.3 804.1L1409.2 805.7L1410.1 801.2L1411.0 805.4L1411.9 807.5L1412.8 801.6L1413.7 806.9L1414.6 807.3L1415.5 804.5L1416.4 807.9L1417.3 807.9L1418.2 807.5L1419.1 801.4L1420.0 803.9L1420.9 803.3L1421.8 810.9L1422.7 807.2L1423.6 800.3L1424.5 806.8L1425.4 803.3L1426.3 800.1L1427.2 805.7L1428.1 806.2L1429.0 801.4L1429.9 807.3L1430.8 810.5L1431.7 798.5L1432.6 810.8L1433.5 805.3L1434.4 806.8L1435.3 806.3L1436.2 805.8L1437.1 809.3L1438.0 810.8L1438.9 809.3L1439.8 807.0L1440.7 808.2L1441.6 804.0L1442.5 803.9L1443.4 808.9L1444.3 805.9L1445.2 806.7L1446.1 810.1L1447.0 810.4L1447.9 808.9L1448.8 805.0L1449.7 809.9L1450.6 810.3L1451.5 804.3L1452.4 808.7L1453.3 804.9L1454.2 804.4L1455.1 807.4L1456.0 804.0L1456.9 801.8L1457.8 808.1L1458.7 812.0L1459.6 811.1L1460.5 812.8L1461.4 807.2L1462.3 806.9L1463.2 806.8L1464.1 813.9L1465.0 804.9L1465.9 805.7L1466.8 807.6L1467.7 807.1L1468.6 810.2L1469.5 807.3L1470.4 807.4L1471.3 805.4L1472.2 823.9L1473.1 823.6L1474.0 807.2L1474.9 812.4L1475.8 806.3L1476.7 809.9L1477.6 803.3L1478.5 807.4L1479.4 808.0L1480.3 803.5L1481.2 801.5L1482.1 802.1L1483.0 803.7L1483.9 801.9L1484.8 800.2L1485.7 807.7L1486.6 803.5L1487.5 806.7L1488.4 802.4L1489.3 802.5L1490.2 796.8L1491.1 806.6L1492.0 802.9L1492.9 800.5L1493.8 805.9L1494.7 804.1L1495.6 802.2L1496.5 801.7L1497.4 803.4L1498.3 803.2L1499.2 805.9L1500.1 803.0L1501.0 803.6L1501.9 811.5L1502.8 803.4L1503.7 805.1L1504.6 806.8L1505.5 806.0L1506.4 812.0L1507.3 806.0L1508.2 808.7L1509.1 807.1L1510.0 809.7L1510.9 804.2L1511.8 805.2L1512.7 805.7L1513.6 808.4L1514.5 814.5L1515.4 811.6L1516.3 810.7L1517.2 812.6L1518.1 814.6L1519.0 809.3L1519.9 812.3L1520.8 818.1L1521.7 809.3L1522.6 810.2L1523.5 816.4L1524.4 820.7L1525.3 821.7L1526.2 814.1L1527.1 812.9L1528.0 813.4L1528.9 810.7L1529.8 807.5L1530.7 815.3L1531.6 815.4L1532.5 817.4L1533.4 816.6L1534.3 816.6L1535.2 818.3L1536.1 810.8L1537.0 815.1L1537.9 821.1L1538.8 821.9L1539.7 823.5L1540.6 816.1L1541.5 817.0L1542.4 816.6L1543.3 811.6L1544.2 823.4L1545.1 821.7L1546.0 822.5L1546.9 819.2L1547.8 822.8L1548.7 820.8L1549.6 818.1L1550.5 825.8L1551.4 820.4L1552.3 818.3L1553.2 810.4L1554.1 814.9L1555.0 807.1L1555.9 808.0L1556.8 805.2L1557.7 806.1L1558.6 803.3L1559.5 804.4L1560.4 809.5L1561.3 809.0L1562.2 805.5L1563.1 802.1L1564.0 807.6L1564.9 806.3L1565.8 809.8L1566.7 811.0L1567.6 813.2L1568.5 811.4L1569.4 807.8L1570.3 810.7L1571.2 811.7L1572.1 808.3L1573.0 811.4L1573.9 811.8L1574.8 808.7L1575.7 816.6L1576.6 815.3L1577.5 814.9L1578.4 808.7L1579.3 813.0L1580.2 810.0L1581.1 811.8L1582.0 813.2L1582.9 816.8L1583.8 815.4L1584.7 804.3L1585.6 815.0L1586.5 810.8L1587.4 814.3L1588.3 812.1L1589.2 814.1L1590.1 814.0L1591.0 816.8L1591.9 813.6L1592.8 809.5L1593.7 810.2L1594.6 811.4L1595.5 812.9L1596.4 811.9L1597.3 806.6L1598.2 804.7L1599.1 811.6L1600.0 808.8L1600.9 810.9L1601.8 806.5L1602.7 812.4L1603.6 811.7L1604.5 816.6L1605.4 808.9L1606.3 813.1L1607.2 808.2L1608.1 817.5L1609.0 810.7L1609.9 814.2L1610.8 811.5" fill="none" stroke="#ff0000" stroke-width="5.2" stroke-linejoin="round" stroke-linecap="round"/>
</g>
<text x="406.6" y="91.9" font-size="37.5" text-anchor="end">90</text>
<text x="406.6" y="237.7" font-size="37.5" text-anchor="end">89</text>
<text x="406.6" y="383.6" font-size="37.5" text-anchor="end">88</text>
<text x="406.6" y="529.4" font-size="37.5" text-anchor="end">87</text>
<text x="406.6" y="675.2" font-size="37.5" text-anchor="end">86</text>
<text x="406.6" y="821.1" font-size="37.5" text-anchor="end">85</text>
<text x="406.6" y="966.9" font-size="37.5" text-anchor="end">84</text>
<text x="434.5" y="1013" font-size="37.5" text-anchor="middle">0</text>
<text x="561.7" y="1013" font-size="37.5" text-anchor="middle">200</text>
<text x="688.8" y="1013" font-size="37.5" text-anchor="middle">400</text>
<text x="816.0" y="1013" font-size="37.5" text-anchor="middle">600</text>
<text x="943.2" y="1013" font-size="37.5" text-anchor="middle">800</text>
<text x="1069.8" y="1013" font-size="37.5" text-anchor="middle" letter-spacing="-1.1">1000</text>
<text x="1196.9" y="1013" font-size="37.5" text-anchor="middle" letter-spacing="-1.1">1200</text>
<text x="1324.1" y="1013" font-size="37.5" text-anchor="middle" letter-spacing="-1.1">1400</text>
<text x="1451.3" y="1013" font-size="37.5" text-anchor="middle" letter-spacing="-1.1">1600</text>
<text x="1578.4" y="1013" font-size="37.5" text-anchor="middle" letter-spacing="-1.1">1800</text>
<text x="984" y="1082.8" font-size="44.8">t (s)</text>
<text x="291.5" y="576" font-size="44" transform="rotate(-90 291.5 576)">φ</text>
<text x="290" y="535.3" font-size="44" transform="rotate(-90 290 535.3)">(</text>
<text x="268" y="521" font-size="28" transform="rotate(-90 268 521)">o</text>
<text x="290" y="505" font-size="44" transform="rotate(-90 290 505)">)</text>
<rect x="981.3" y="453.4" width="619.5" height="151.9" fill="#fff" stroke="#000" stroke-width="1.2"/>
<path d="M999 491H1104" stroke="#00ff00" stroke-width="6"/>
<path d="M999 567.5H1104" stroke="#ff0000" stroke-width="5"/>
<text x="1113" y="506" font-size="44.5">PCH7;</text>
<text x="1260" y="506" font-size="44.5" class="i">T</text>
<text x="1286" y="521.6" font-size="27" class="i">NI</text>
<text x="1329.5" y="504.2" font-size="47.5">−</text>
<text x="1361.4" y="506" font-size="44.5" class="i">T</text>
<text x="1387.5" y="506" font-size="44.5">=</text>
<text x="1414.5" y="506" font-size="44.5">18.3</text>
<text x="1513.5" y="484.3" font-size="28">o</text>
<text x="1528.5" y="506" font-size="44.5">C</text>
<text x="1113.5" y="582.3" font-size="44.5">6CHB</text>
<text x="1229.6" y="582.3" font-size="44.5">T</text>
<text x="1262" y="582.3" font-size="44.5">;</text>
<text x="1287.3" y="582.3" font-size="44.5" class="i">T</text>
<text x="1314.2" y="597.9" font-size="27" class="i">NI</text>
<text x="1357.6000000000001" y="580.5" font-size="47.5">−</text>
<text x="1389.6" y="582.3" font-size="44.5" class="i">T</text>
<text x="1415.3" y="582.3" font-size="44.5">=</text>
<text x="1442.3" y="582.3" font-size="44.5">18.2</text>
<text x="1541.2" y="560.5999999999999" font-size="28">o</text>
<text x="1556.2" y="582.3" font-size="44.5">C</text>
</g>
<g id="plot-b">
<path class="ax" d="M1619.0 1325.5H443.5V2189.5H1619.0"/>
<path d="M1620.0 1323.0V2192.0" stroke="#000" stroke-width="4"/>
<path class="ax" d="M443.5 1325.5H426.4M443.5 1373.5H434.9M443.5 1421.5H426.4M443.5 1469.5H434.9M443.5 1517.5H426.4M443.5 1565.5H434.9M443.5 1613.5H426.4M443.5 1661.5H434.9M443.5 1709.5H426.4M443.5 1757.5H434.9M443.5 1805.5H426.4M443.5 1853.5H434.9M443.5 1901.5H426.4M443.5 1949.5H434.9M443.5 1997.5H426.4M443.5 2045.5H434.9M443.5 2093.5H426.4M443.5 2141.5H434.9M443.5 2189.5H426.4M443.5 2189.5V2206.5M502.3 2189.5V2198.3M561.1 2189.5V2206.5M620.0 2189.5V2198.3M678.8 2189.5V2206.5M737.6 2189.5V2198.3M796.5 2189.5V2206.5M855.3 2189.5V2198.3M914.1 2189.5V2206.5M972.9 2189.5V2198.3M1031.8 2189.5V2206.5M1090.6 2189.5V2198.3M1149.4 2189.5V2206.5M1208.2 2189.5V2198.3M1267.1 2189.5V2206.5M1325.9 2189.5V2198.3M1384.7 2189.5V2206.5M1443.5 2189.5V2198.3M1502.4 2189.5V2206.5M1561.2 2189.5V2198.3M1620.0 2189.5V2206.5"/>
<text x="413.8" y="1336.9" font-size="37.5" text-anchor="end">90</text>
<text x="413.8" y="1432.9" font-size="37.5" text-anchor="end">80</text>
<text x="413.8" y="1528.9" font-size="37.5" text-anchor="end">70</text>
<text x="413.8" y="1624.9" font-size="37.5" text-anchor="end">60</text>
<text x="413.8" y="1720.9" font-size="37.5" text-anchor="end">50</text>
<text x="413.8" y="1816.9" font-size="37.5" text-anchor="end">40</text>
<text x="413.8" y="1912.9" font-size="37.5" text-anchor="end">30</text>
<text x="413.8" y="2008.9" font-size="37.5" text-anchor="end">20</text>
<text x="413.8" y="2104.9" font-size="37.5" text-anchor="end">10</text>
<text x="413.8" y="2200.9" font-size="37.5" text-anchor="end">0</text>
<text x="443.5" y="2247.8" font-size="37.5" text-anchor="middle">0</text>
<text x="561.1" y="2247.8" font-size="37.5" text-anchor="middle">2</text>
<text x="678.8" y="2247.8" font-size="37.5" text-anchor="middle">4</text>
<text x="796.5" y="2247.8" font-size="37.5" text-anchor="middle">6</text>
<text x="914.1" y="2247.8" font-size="37.5" text-anchor="middle">8</text>
<text x="1031.8" y="2247.8" font-size="37.5" text-anchor="middle">10</text>
<text x="1149.4" y="2247.8" font-size="37.5" text-anchor="middle">12</text>
<text x="1267.1" y="2247.8" font-size="37.5" text-anchor="middle">14</text>
<text x="1384.7" y="2247.8" font-size="37.5" text-anchor="middle">16</text>
<text x="1502.4" y="2247.8" font-size="37.5" text-anchor="middle">18</text>
<text x="1620.0" y="2247.8" font-size="37.5" text-anchor="middle">20</text>
<clipPath id="cb"><rect x="443.5" y="1325.5" width="1176.5" height="865"/></clipPath>
<g clip-path="url(#cb)">
<path d="M459.6 2179.5H486.0L472.8 2156.7Z" fill="#f00"/>
<path d="M518.0 2031.6H544.4L531.2 2008.8Z" fill="#f00"/>
<path d="M577.3 1881.5H603.7L590.5 1858.7Z" fill="#f00"/>
<path d="M636.1 1511.8H662.5L649.3 1489.0Z" fill="#f00"/>
<path d="M636.1 1362.6H662.5L649.3 1339.8Z" fill="#f00"/>
<path d="M694.6 1431.6H721.0L707.8 1408.8Z" fill="#f00"/>
<path d="M812.2 1332.6H838.6L825.4 1309.8Z" fill="#f00"/>
<path d="M924.2 1332.6H950.6L937.4 1309.8Z" fill="#f00"/>
<path d="M929.8 1352.6H956.2L943 1329.8Z" fill="#f00"/>
<path d="M1041.8 1335.8H1068.2L1055 1313.0Z" fill="#f00"/>
<path d="M1159.3 1352.6H1185.7L1172.5 1329.8Z" fill="#f00"/>
<path d="M1270.8 1355H1297.2L1284 1332.2Z" fill="#f00"/>
<path d="M1388.8 1342.7H1415.2L1402 1319.9Z" fill="#f00"/>
<path d="M1506.3 1332.9H1532.7L1519.5 1310.1Z" fill="#f00"/>
<rect x="457.0" y="2175.2" width="20" height="20" fill="#00f"/>
<rect x="515.6" y="2175.2" width="20" height="20" fill="#00f"/>
<rect x="574.1" y="2166.9" width="20" height="20" fill="#00f"/>
<rect x="633.0" y="2141.0" width="20" height="20" fill="#00f"/>
<rect x="692.1" y="2097.0" width="20" height="20" fill="#00f"/>
<rect x="750.8" y="1776.0" width="20" height="20" fill="#00f"/>
<rect x="809.2" y="1689.4" width="20" height="20" fill="#00f"/>
<rect x="867.9" y="1564.4" width="20" height="20" fill="#00f"/>
<rect x="921.6" y="1544.9" width="20" height="20" fill="#00f"/>
<rect x="980.0" y="1410.8" width="20" height="20" fill="#00f"/>
<rect x="1038.8" y="1423.3" width="20" height="20" fill="#00f"/>
<rect x="1097.7" y="1379.4" width="20" height="20" fill="#00f"/>
<rect x="1156.9" y="1381.5" width="20" height="20" fill="#00f"/>
<rect x="1215.2" y="1375.6" width="20" height="20" fill="#00f"/>
<rect x="1333.1" y="1359.8" width="20" height="20" fill="#00f"/>
<rect x="1451.0" y="1329.9" width="20" height="20" fill="#00f"/>
<rect x="1568.9" y="1317.0" width="20" height="20" fill="#00f"/>
<path d="M496.5 2175.2L510.5 2189.2L496.5 2203.2L482.5 2189.2Z" fill="#f0f"/>
<path d="M614.2 2171.5L628.2 2185.5L614.2 2199.5L600.2 2185.5Z" fill="#f0f"/>
<path d="M732 2163.7L746 2177.7L732 2191.7L718 2177.7Z" fill="#f0f"/>
<path d="M843.8 2136.8L857.8 2150.8L843.8 2164.8L829.8 2150.8Z" fill="#f0f"/>
<path d="M960.9 2016.7L974.9 2030.7L960.9 2044.7L946.9 2030.7Z" fill="#f0f"/>
<path d="M1079 1646.9L1093 1660.9L1079 1674.9L1065 1660.9Z" fill="#f0f"/>
<path d="M1196.5 1484L1210.5 1498L1196.5 1512L1182.5 1498Z" fill="#f0f"/>
<path d="M1314.1 1399.8L1328.1 1413.8L1314.1 1427.8L1300.1 1413.8Z" fill="#f0f"/>
<path d="M1431.8 1362.9L1445.8 1376.9L1431.8 1390.9L1417.8 1376.9Z" fill="#f0f"/>
<path d="M1490.1 1359L1504.1 1373L1490.1 1387L1476.1 1373Z" fill="#f0f"/>
<path d="M1543.7 1374L1557.7 1388L1543.7 1402L1529.7 1388Z" fill="#f0f"/>
<path d="M1596.7 1349.9L1610.7 1363.9L1596.7 1377.9L1582.7 1363.9Z" fill="#f0f"/>
<circle cx="531" cy="1341.3" r="11.2"/>
<circle cx="590.4" cy="1354.6" r="11.2"/>
<circle cx="501.7" cy="1376.4" r="11.2"/>
<circle cx="525.5" cy="1387.2" r="11.2"/>
<circle cx="490.2" cy="1400.7" r="11.2"/>
<circle cx="514" cy="1403.5" r="11.2"/>
<circle cx="637.3" cy="1376.4" r="11.2"/>
<circle cx="648.8" cy="1402" r="11.2"/>
<circle cx="707.7" cy="1416" r="11.2"/>
<circle cx="754.6" cy="1391" r="11.2"/>
<circle cx="766.6" cy="1392.2" r="11.2"/>
<circle cx="825.2" cy="1365.1" r="11.2"/>
<circle cx="501.7" cy="1524.8" r="11.2"/>
<circle cx="483.9" cy="1561.1" r="11.2"/>
<circle cx="490.2" cy="1615.8" r="11.2"/>
<circle cx="872.7" cy="1382.7" r="11.2"/>
<circle cx="942.8" cy="1404.7" r="11.2"/>
<circle cx="990" cy="1373.2" r="11.2"/>
<circle cx="1054.9" cy="1386.4" r="11.2"/>
<circle cx="1102" cy="1355.1" r="11.2"/>
<circle cx="1172.7" cy="1347.6" r="11.2"/>
<circle cx="1219.6" cy="1392.3" r="11.2"/>
<circle cx="1290.5" cy="1318" r="11.2"/>
<circle cx="1408" cy="1333.4" r="11.2"/>
<circle cx="1396" cy="1401.8" r="11.2"/>
<circle cx="1513.6" cy="1359.5" r="11.2"/>
<circle cx="1525.5" cy="1396.1" r="11.2"/>
<circle cx="1608.1" cy="1393.4" r="11.2"/>
</g>
<rect x="1345.6" y="1937.9" width="269.7" height="220.8" fill="#fff" stroke="#000" stroke-width="1.6"/>
<path d="M1395.2 1982.6H1421.6L1408.4 1959.8Z" fill="#f00"/>
<rect x="1398" y="2017" width="20" height="19.5" fill="#00f"/>
<path d="M1408.4 2064.7L1422.5 2078.8L1408.4 2092.9L1394.3 2078.8Z" fill="#f0f"/>
<circle cx="1408.2" cy="2130.5" r="11"/>
<text x="1468" y="1988.1" font-size="42.5">PCH7</text>
<text x="1468" y="2039.8" font-size="42.5">PCH5</text>
<text x="1468" y="2091.5" font-size="42.5">PCH3</text>
<text x="1467" y="2144.1" font-size="42.5">6CHBT</text>
<text x="920.5" y="2327.7" font-size="45" class="i">T</text>
<text x="946.5" y="2344.0" font-size="28" class="i">NI</text>
<text x="989.8" y="2328.0" font-size="48.5">−</text>
<text x="1025.5" y="2327.7" font-size="45" class="i">T</text>
<text x="1065" y="2327.7" font-size="45">(</text>
<text x="1079.7" y="2305.1" font-size="28.5">o</text>
<text x="1095.8" y="2327.7" font-size="45">C</text>
<text x="1129.2" y="2327.7" font-size="45">)</text>
<text x="329" y="1858" font-size="44" transform="rotate(-90 329 1858)">φ</text>
<text x="345" y="1829.5" font-size="27" class="i" transform="rotate(-90 345 1829.5)">sat</text>
<text x="327.5" y="1781" font-size="44" transform="rotate(-90 327.5 1781)">(</text>
<text x="306.2" y="1766.2" font-size="28" transform="rotate(-90 306.2 1766.2)">o</text>
<text x="327.5" y="1749.5" font-size="44" transform="rotate(-90 327.5 1749.5)">)</text>
</g>
<text transform="translate(30.8 1157.6) scale(0.9 1)" font-size="86.5" class="s">(</text>
<text x="57.2" y="1159" font-size="84" class="s" font-weight="bold">a</text>
<text transform="translate(98.4 1157.6) scale(0.9 1)" font-size="86.5" class="s">)</text>
<text transform="translate(30.8 2389.6) scale(0.9 1)" font-size="86.5" class="s">(</text>
<text transform="translate(57.2 2391) scale(1.035 1)" font-size="86" class="s" font-weight="bold">b</text>
<text transform="translate(107.2 2389.6) scale(0.9 1)" font-size="86.5" class="s">)</text>
</svg>
</body></html>
